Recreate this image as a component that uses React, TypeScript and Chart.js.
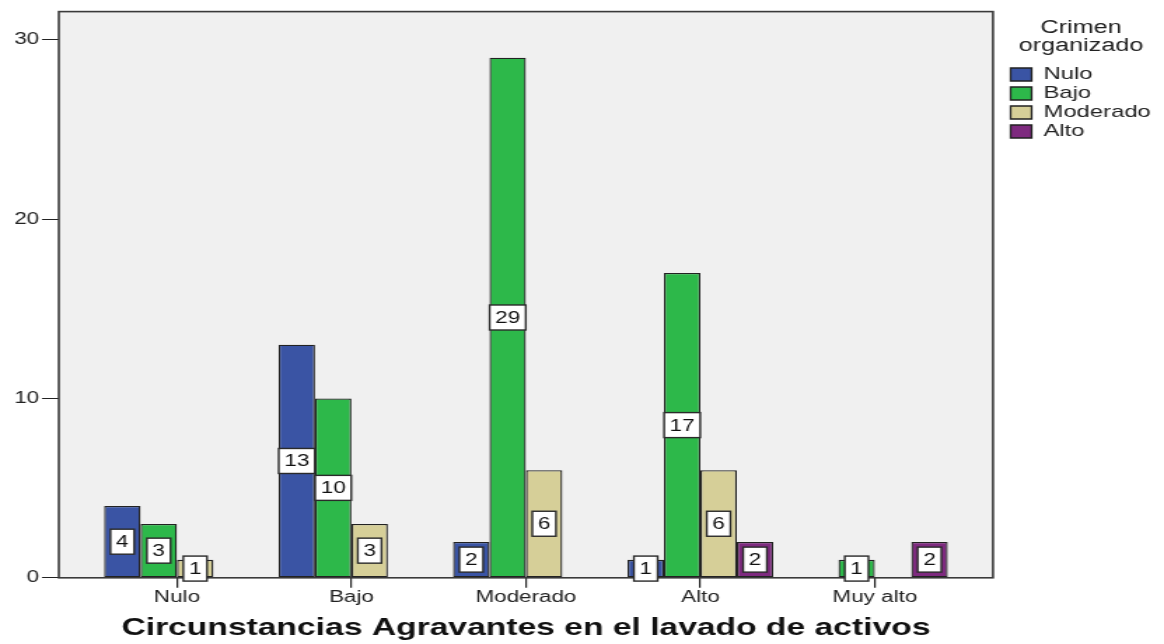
import React, { useEffect, useRef } from 'react';
import { Chart, registerables } from 'chart.js';

Chart.register(...registerables);

// ---- data ----
const categories = ['Nulo', 'Bajo', 'Moderado', 'Alto', 'Muy alto'];
const seriesNames = ['Nulo', 'Bajo', 'Moderado', 'Alto'];
const nuloValues: (number | null)[] = [4, 13, 2, 1, null];
const bajoValues: (number | null)[] = [3, 10, 29, 17, 1];
const moderadoValues: (number | null)[] = [1, 3, 6, 6, null];
const altoValues: (number | null)[] = [null, null, null, 2, 2];
const yTickValues = [0, 10, 20, 30];
const xAxisTitle = 'Circunstancias Agravantes en el lavado de activos';
const legendTitle = ['Crimen', 'organizado'];

// ---- styles ----
const seriesColors = ['#3a54a4', '#2db84a', '#d6cf98', '#7e2a7f'];
const FONT = '"Liberation Sans", Arial, sans-serif';
const LOGICAL_W = 831;
const H = 644;

const allSeries = [nuloValues, bajoValues, moderadoValues, altoValues];

const plotPlugin = {
  id: 'plotFrameAndLabels',
  beforeDraw(chart: any) {
    const { ctx, chartArea: a } = chart;
    ctx.save();
    ctx.fillStyle = '#f0f0f0';
    ctx.fillRect(a.left, a.top, a.right - a.left, a.bottom - a.top);
    ctx.restore();
  },
  afterDatasetsDraw(chart: any) {
    const { ctx, chartArea: a } = chart;
    ctx.save();
    ctx.strokeStyle = '#3a3a3a';
    ctx.lineWidth = 1.6;
    ctx.strokeRect(a.left, a.top, a.right - a.left, a.bottom - a.top);
    ctx.restore();

    ctx.save();
    ctx.font = `16px ${FONT}`;
    ctx.textAlign = 'center';
    ctx.textBaseline = 'middle';
    allSeries.forEach((vals, k) => {
      const meta = chart.getDatasetMeta(k);
      meta.data.forEach((bar: any, j: number) => {
        const v = vals[j];
        if (v === null || v === undefined) return;
        const { x, y, base } = bar.getProps(['x', 'y', 'base'], true);
        const cy = (y + base) / 2;
        const text = String(v);
        const tw = ctx.measureText(text).width;
        const bw = tw + 8;
        const bh = 25;
        ctx.fillStyle = '#ffffff';
        ctx.fillRect(x - bw / 2, cy - bh / 2, bw, bh);
        ctx.strokeStyle = '#2a2a2a';
        ctx.lineWidth = 1.4;
        ctx.strokeRect(x - bw / 2, cy - bh / 2, bw, bh);
        ctx.fillStyle = '#111111';
        ctx.fillText(text, x, cy + 1);
      });
    });
    ctx.restore();
  },
};

export default function App() {
  const canvasRef = useRef<HTMLCanvasElement | null>(null);

  useEffect(() => {
    const canvas = canvasRef.current;
    if (!canvas) return;
    const chart = new Chart(canvas, {
      type: 'bar',
      data: {
        datasets: allSeries.map((vals, k) => ({
          label: seriesNames[k],
          data: vals.map((v, i) => ({ x: i, y: v })),
          backgroundColor: seriesColors[k],
          borderColor: '#222222',
          borderWidth: 1.3,
          borderSkipped: false,
          categoryPercentage: 0.835,
          barPercentage: 1,
        })),
      } as any,
      options: {
        responsive: false,
        animation: false,
        devicePixelRatio: 1,
        layout: { padding: { left: 8.2, top: 10, right: 6.9, bottom: 1.5 } },
        scales: {
          x: {
            type: 'linear',
            offset: false,
            min: -0.677,
            max: 4.677,
            afterBuildTicks: (s: any) => {
              s.ticks = categories.map((_, i) => ({ value: i }));
            },
            ticks: {
              callback: (v: any) => categories[v] ?? '',
              font: { family: FONT, size: 16 },
              color: '#222222',
              padding: 0,
              maxRotation: 0,
              autoSkip: false,
            },
            grid: {
              display: true,
              offset: false,
              drawOnChartArea: false,
              drawTicks: true,
              tickLength: 10,
              color: '#222222',
              lineWidth: 1.2,
            },
            border: { display: false },
            title: {
              display: true,
              text: xAxisTitle,
              font: { family: FONT, size: 24, weight: 'bold' },
              color: '#111111',
              padding: { top: 6.7, bottom: 0 },
            },
          },
          y: {
            type: 'linear',
            min: 0,
            max: 31.57,
            afterBuildTicks: (s: any) => {
              s.ticks = yTickValues.map((v) => ({ value: v }));
            },
            ticks: {
              font: { family: FONT, size: 16 },
              color: '#222222',
              padding: 2,
            },
            grid: {
              display: true,
              drawOnChartArea: false,
              drawTicks: true,
              tickLength: 12,
              color: '#222222',
              lineWidth: 1,
            },
            border: { display: false },
          },
          gap: {
            type: 'linear',
            position: 'right',
            display: true,
            grid: { display: false },
            ticks: { display: false },
            border: { display: false },
            afterFit: (s: any) => {
              s.width = 10.6;
            },
          },
        } as any,
        plugins: {
          legend: {
            position: 'right',
            align: 'start',
            maxWidth: 104.6,
            title: {
              display: true,
              text: legendTitle,
              color: '#222222',
              font: { family: FONT, size: 18, lineHeight: '18px' },
              padding: { top: 9, bottom: 27 },
            },
            labels: {
              font: { family: FONT, size: 17 },
              color: '#222222',
              boxWidth: 15,
              boxHeight: 13,
              padding: 2,
            },
          },
          tooltip: { enabled: false },
        } as any,
      },
      plugins: [plotPlugin],
    });
    return () => chart.destroy();
  }, []);

  return (
    <canvas
      ref={canvasRef}
      width={LOGICAL_W}
      height={H}
      style={{ position: 'absolute', left: 0, top: 0, width: '1164px', height: `${H}px` }}
    />
  );
}
